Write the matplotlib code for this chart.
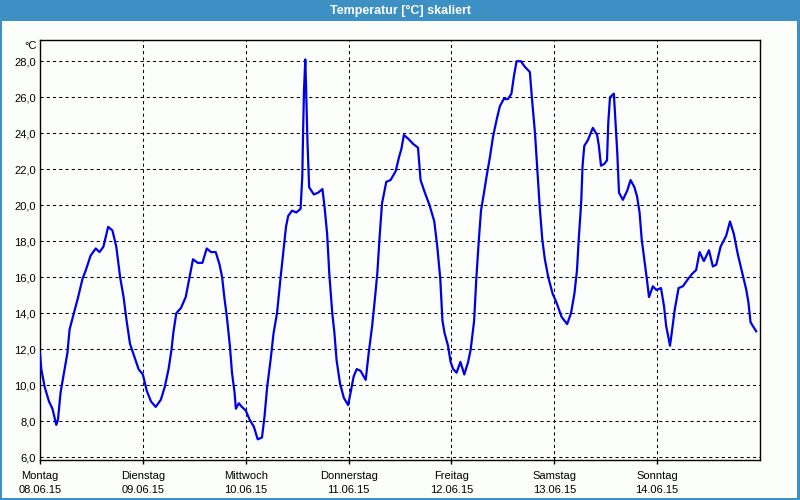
import matplotlib
matplotlib.use('Agg')
import matplotlib.pyplot as plt
from matplotlib.patches import Rectangle

# hours since Monday 00:00 and temperature in degC
hours = [0.0, 0.3, 1.1, 2.1, 2.9, 3.8, 4.2, 4.8, 5.6, 6.4, 6.9, 7.9, 8.9, 9.9,
         10.7, 11.8, 13.0, 13.9, 14.8, 15.9, 16.9, 17.8, 18.7, 19.5, 20.2, 21.0,
         22.0, 23.0, 24.0, 24.9, 25.9, 27.0, 28.2, 29.1, 30.0, 30.7, 31.1, 31.8,
         32.9, 34.0, 34.8, 35.7, 36.8, 37.9, 38.9, 39.9, 41.0, 41.9,
         42.5, 43.0, 43.6, 44.3, 44.8, 45.4, 45.7, 46.4, 47.1, 48.0, 48.9, 49.9,
         50.8, 51.8, 52.4, 53.0, 53.8, 54.5, 55.3, 56.1, 56.9, 57.4, 57.9, 58.8,
         59.8, 60.8, 61.2, 61.4, 61.6, 61.9, 62.1, 62.4, 62.8, 63.9, 64.9, 65.9,
         66.4, 67.0, 67.5, 68.2, 68.7, 69.2, 70.0, 70.9, 71.9, 72.7, 73.2, 73.9,
         74.8, 76.0, 76.7, 77.5, 78.1, 78.7, 79.2, 79.8, 80.8, 81.8, 83.0, 83.8,
         84.3, 84.9, 85.9, 87.1, 88.2, 88.8, 89.8, 90.9, 92.0, 92.7, 93.4, 93.9,
         94.4, 95.2, 95.8, 96.4, 97.2, 98.1, 99.0, 99.9, 100.5, 101.3, 101.8,
         102.4, 102.9, 103.6, 104.2, 105.0, 105.7, 106.5, 107.3, 108.2, 109.2,
         110.0, 110.6, 111.2, 112.2, 113.1, 114.3, 114.8, 115.5, 116.1, 116.6,
         117.2, 117.8, 118.6, 119.6, 120.5, 121.7, 123.0, 123.9, 124.7, 125.3,
         125.7, 126.1, 126.3, 126.6, 127.0, 127.8, 129.0, 130.0, 130.4, 130.9,
         131.7, 132.3, 132.6, 133.0, 133.9, 134.3, 134.7, 135.1, 136.0, 137.0,
         137.8, 138.7, 139.3, 139.9, 140.4, 141.0, 141.6, 142.1, 143.0, 143.8,
         144.9, 145.6, 146.1, 147.0, 147.4, 148.1, 149.0, 150.0, 151.2, 152.2,
         153.1, 153.9, 154.9, 156.1, 157.0, 157.8, 158.8, 160.1, 161.0, 161.9,
         162.8, 163.9, 164.8, 165.3, 165.8, 167.1]
temps = [11.8, 10.9, 9.9, 9.1, 8.7, 7.8, 8.1, 9.6, 10.7, 11.8, 13.1, 14.0, 14.9, 15.9,
         16.4, 17.2, 17.6, 17.4, 17.7, 18.8, 18.6, 17.7, 16.0, 14.9, 13.6, 12.3,
         11.6, 10.9, 10.6, 9.7, 9.1, 8.8, 9.2, 9.9, 10.9, 12.0, 12.9, 14.0,
         14.3, 14.9, 15.9, 17.0, 16.8, 16.8, 17.6, 17.4, 17.4, 16.7,
         16.0, 14.9, 13.8, 12.2, 10.7, 9.6, 8.7, 9.0, 8.8, 8.6, 8.1, 7.7,
         7.0, 7.1, 8.3, 9.9, 11.4, 12.9, 14.0, 15.9, 17.7, 18.8, 19.4, 19.7,
         19.6, 19.8, 21.6, 24.2, 26.4, 28.1, 26.4, 23.6, 21.0, 20.6, 20.7, 20.9,
         19.9, 18.4, 16.2, 14.0, 12.9, 11.4, 10.1, 9.3, 8.9, 9.9, 10.5, 10.9,
         10.8, 10.3, 11.8, 13.3, 14.7, 16.2, 18.1, 20.1, 21.3, 21.4, 21.9, 22.7,
         23.1, 23.9, 23.7, 23.4, 23.2, 21.4, 20.7, 20.0, 19.1, 17.7, 15.9, 13.6,
         12.9, 12.2, 11.3, 10.9, 10.7, 11.3, 10.6, 11.3, 12.0, 13.6, 15.9,
         18.1, 19.7, 20.7, 21.6, 22.7, 23.8, 24.7, 25.5, 25.9, 25.9,
         26.2, 27.2, 28.0, 28.0, 27.7, 27.4, 25.9, 24.0, 21.8, 19.9,
         18.1, 17.0, 16.0, 15.1, 14.6, 13.8, 13.4, 14.0, 15.1, 16.4,
         18.1, 19.5, 20.3, 22.2, 23.3, 23.6, 24.3, 23.9, 23.3, 22.2,
         22.3, 22.5, 24.6, 26.0, 26.2, 24.6, 22.9, 20.7, 20.3, 20.8,
         21.4, 21.0, 20.5, 19.6, 18.1, 17.0, 15.9, 14.9, 15.5, 15.3,
         15.4, 14.4, 13.3, 12.2, 12.9, 14.2, 15.4, 15.5, 15.9, 16.2,
         16.4, 17.4, 16.9, 17.5, 16.6, 16.7, 17.7, 18.3, 19.1, 18.4,
         17.3, 16.2, 15.3, 14.6, 13.5, 13.0]

day_names = ['Montag', 'Dienstag', 'Mittwoch', 'Donnerstag', 'Freitag', 'Samstag', 'Sonntag']
dates = ['08.06.15', '09.06.15', '10.06.15', '11.06.15', '12.06.15', '13.06.15', '14.06.15']
y_ticks = [6, 8, 10, 12, 14, 16, 18, 20, 22, 24, 26, 28]

plt.rcParams['font.family'] = ['Liberation Sans', 'DejaVu Sans']
bar_blue = '#3c90c4'
bg = '#fcfefc'

fig = plt.figure(figsize=(8, 5), dpi=100, facecolor=bg)

# window frame + title bar
fig.patches.append(Rectangle((0, 1 - 21 / 500), 1, 21 / 500, transform=fig.transFigure,
                             facecolor=bar_blue, edgecolor='none', zorder=0))
fig.patches.append(Rectangle((0, 0), 2 / 800, 1, transform=fig.transFigure,
                             facecolor=bar_blue, edgecolor='none'))
fig.patches.append(Rectangle((1 - 3 / 800, 0), 3 / 800, 1, transform=fig.transFigure,
                             facecolor=bar_blue, edgecolor='none'))
fig.patches.append(Rectangle((0, 0), 1, 2 / 500, transform=fig.transFigure,
                             facecolor=bar_blue, edgecolor='none'))
fig.text(0.5, 1 - 10.5 / 500, 'Temperatur [°C] skaliert', color='white',
         fontsize=9, fontweight='bold', ha='center', va='center')

ax = fig.add_axes([40 / 800, 40 / 500, 720 / 800, 420 / 500])
ax.set_facecolor(bg)
ax.plot(hours, temps, color='#0000e8', linewidth=1.6, zorder=3)

ax.set_xlim(0, 168)
ax.set_ylim(5.85, 29.18)

ax.set_yticks(y_ticks)
ax.set_yticklabels([f'{v:.1f}'.replace('.', ',') for v in y_ticks])
ax.set_xticks([24 * i for i in range(7)])
ax.set_xticklabels([f'{n}\n{d}' for n, d in zip(day_names, dates)], linespacing=1.45)

ax.tick_params(axis='y', length=0, pad=3, labelsize=8, colors='black')
ax.tick_params(axis='x', length=3, width=1, pad=5, labelsize=8, direction='out')

for v in y_ticks:
    ax.axhline(v, color='black', linewidth=0.75, linestyle=(0, (3, 3)), zorder=1)
for i in range(1, 7):
    ax.axvline(24 * i, color='black', linewidth=0.75, linestyle=(0, (3, 3)), zorder=1)

for s in ax.spines.values():
    s.set_linewidth(1.0)
    s.set_color('black')

fig.text(37 / 800, 1 - 46 / 500, '°C', fontsize=8, ha='right', va='center')

fig.savefig('out.png', dpi=100, facecolor=bg)
